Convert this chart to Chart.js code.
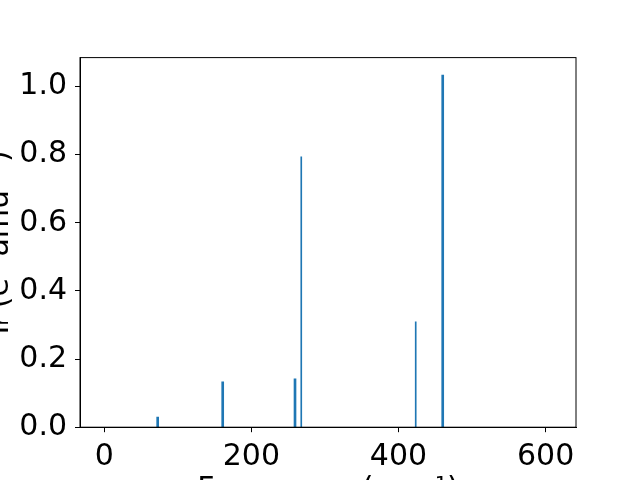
<!DOCTYPE html>
<html>
<head>
<meta charset="utf-8">
<script src="https://cdn.jsdelivr.net/npm/chart.js@4/dist/chart.umd.min.js"></script>
<style>
  html, body { margin: 0; padding: 0; width: 640px; height: 480px; overflow: hidden; background: #fff; }
  #wrap { position: absolute; left: -40px; top: 0; width: 720px; height: 540px; }
</style>
</head>
<body>
<div id="wrap"><canvas id="spectrum"></canvas></div>
<script>
// IR modes: frequency (cm^-1) and intensity, thick sticks and thin sticks
const thickFreq = [72.6, 161.0, 259.3, 460.1];
const thickInt = [0.030, 0.133, 0.142, 1.034];
const thinFreq = [267.8, 423.4];
const thinInt = [0.794, 0.309];
const yTicks = [0.0, 0.2, 0.4, 0.6, 0.8, 1.0];
const xTicks = [0, 200, 400, 600];

const blue = '#1f77b4';
const font = { family: 'DejaVu Sans', size: 30 };

const toPoints = (xs, ys) => xs.map((x, i) => ({ x: x, y: ys[i] }));

// matplotlib style box around the plot area
const frame = {
    id: 'frame',
    afterDatasetsDraw(chart) {
        const { ctx, chartArea: a } = chart;
        ctx.save();
        ctx.strokeStyle = '#000';
        ctx.lineWidth = 1;
        ctx.strokeRect(a.left, a.top, a.right - a.left, a.bottom - a.top);
        ctx.restore();
    }
};

const ctx = document.getElementById('spectrum').getContext('2d');

const chart = new Chart(ctx, {
    type: 'bar',
    data: {
        datasets: [{
            label: 'strong',
            data: toPoints(thickFreq, thickInt),
            backgroundColor: blue,
            barThickness: 2,
            grouped: false
        }, {
            label: 'weak',
            data: toPoints(thinFreq, thinInt),
            backgroundColor: blue,
            barThickness: 1,
            grouped: false
        }]
    },
    options: {
        responsive: true,
        maintainAspectRatio: false,
        animation: false,
        layout: { padding: { left: 0, top: 57.6, right: 104, bottom: 0 } },
        plugins: { legend: { display: false }, tooltip: { enabled: false } },
        scales: {
            x: {
                type: 'linear',
                offset: false,
                min: -33,
                max: 641.3,
                afterBuildTicks: (s) => { s.ticks = xTicks.map(v => ({ value: v })); },
                afterFit: (s) => { s.height = 112.8; },
                grid: { offset: false, drawOnChartArea: false, drawTicks: true, tickLength: 5, color: '#000' },
                border: { display: true, color: '#000', width: 1 },
                ticks: { color: '#000', font: font, padding: 7, maxRotation: 0 },
                title: {
                    display: true,
                    text: 'Frequency (cm⁻¹)',
                    color: '#000',
                    font: font,
                    padding: { top: 0, bottom: 32 }
                }
            },
            y: {
                min: 0,
                max: 1.085,
                afterBuildTicks: (s) => { s.ticks = yTicks.map(v => ({ value: v })); },
                afterFit: (s) => { s.width = 120; },
                grid: { drawOnChartArea: false, drawTicks: true, tickLength: 5, color: '#000' },
                border: { display: true, color: '#000', width: 1 },
                ticks: { color: '#000', font: font, padding: 8, callback: (v) => v.toFixed(1) },
                title: {
                    display: true,
                    text: 'Iᵣ (e² amu⁻¹)',
                    color: '#000',
                    font: font,
                    padding: { top: 22, bottom: 0 }
                }
            }
        }
    },
    plugins: [frame]
});
</script>
</body>
</html>
